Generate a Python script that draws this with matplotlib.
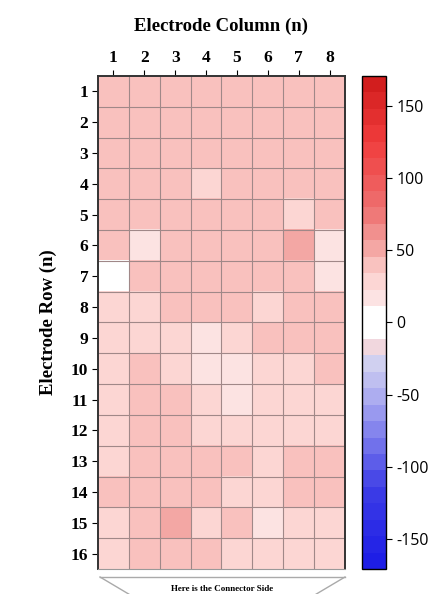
import numpy as np
import matplotlib
matplotlib.use('Agg')
import matplotlib.pyplot as plt
from matplotlib.colors import LinearSegmentedColormap
from matplotlib.lines import Line2D

plt.rcParams['axes.unicode_minus'] = False

cols = [1, 2, 3, 4, 5, 6, 7, 8]
rows = list(range(1, 17))

# values per electrode (row by row, columns 1..8)
vals = [
    [35, 36, 42, 41, 41, 41, 40, 40],
    [36, 37, 44, 42, 42, 42, 42, 42],
    [35, 36, 35, 42, 42, 42, 41, 41],
    [36, 36, 36, 34, 43, 43, 43, 43],
    [38, 36, 36, 42, 44, 44, 33, 38],
    [40, 15, 38, 37, 38, 38, 47, 12],
    [3, 40, 40, 40, 40, 40, 40, 15],
    [30, 33, 38, 38, 38, 30, 38, 38],
    [33, 33, 33, 16, 33, 40, 40, 40],
    [32, 40, 33, 15, 17, 32, 32, 40],
    [32, 38, 38, 32, 17, 32, 32, 32],
    [32, 38, 38, 32, 30, 32, 32, 32],
    [32, 38, 38, 38, 38, 32, 38, 38],
    [38, 38, 38, 38, 32, 32, 38, 38],
    [32, 36, 47, 31, 40, 18, 32, 32],
    [32, 36, 36, 36, 32, 32, 32, 32],
]
vmin, vmax = -171, 171

# colour anchors
anchors = [
    (-171, '#1e1ee6'), (-120, '#3c3ce6'), (-90, '#6e6eeb'), (-55, '#aaaaf0'),
    (-25, '#d7d7f0'), (-15, '#fad7d7'), (-10, '#ffffff'), (10, '#ffffff'),
    (15, '#fce6e6'), (35, '#fcd0cd'), (55, '#f3a3a0'), (80, '#ee7272'),
    (130, '#f03c3c'), (171, '#d21e1e'),
]
pos = [(a - vmin) / (vmax - vmin) for a, _ in anchors]
cmap = LinearSegmentedColormap.from_list('elec', list(zip(pos, [c for _, c in anchors]))).resampled(30)

serif = 'Liberation Serif'
fig = plt.figure(figsize=(4.45, 5.94), dpi=100)
ax = fig.add_axes([0.2202, 0.0421, 0.555, 0.830])
im = ax.imshow(np.array(vals), cmap=cmap, vmin=vmin, vmax=vmax, aspect='auto',
               extent=(0.5, 8.5, 16.5, 0.5), interpolation='nearest')

ax.set_xticks(cols)
ax.set_yticks(rows)
ax.set_xticklabels(cols, fontfamily=serif, fontweight='bold', fontsize=12.5)
ax.set_yticklabels(rows, fontfamily=serif, fontweight='bold', fontsize=12.5)
ax.xaxis.tick_top()
ax.xaxis.set_label_position('top')
ax.tick_params(length=4, width=0.8, pad=3)
ax.set_xlabel('Electrode Column (n)', fontfamily=serif, fontweight='bold', fontsize=13.5, labelpad=14)
ax.set_ylabel('Electrode Row (n)', fontfamily=serif, fontweight='bold', fontsize=13.5, labelpad=10)

ax.set_xticks(np.arange(1.5, 8.5, 1), minor=True)
ax.set_yticks(np.arange(1.5, 16.5, 1), minor=True)
ax.tick_params(which='minor', length=0)
ax.grid(which='minor', color='#a08888', linewidth=0.8)
ax.grid(which='major', visible=False)
for side in ['left', 'top', 'right']:
    ax.spines[side].set_linewidth(1.4)
    ax.spines[side].set_color('#333333')
ax.spines['bottom'].set_color('#999999')

cax = fig.add_axes([0.8135, 0.0421, 0.054, 0.830])
cb = fig.colorbar(im, cax=cax)
cb.set_ticks([-150, -100, -50, 0, 50, 100, 150])
cb.ax.tick_params(labelsize=11.5, length=4)
for t in cb.ax.get_yticklabels():
    t.set_fontfamily('Open Sans')
cb.outline.set_linewidth(1.0)

# connector-side trapezoid
W, H = 445, 594
def fx(x):
    return x / W
def fy(y):
    return 1 - y / H
line_kw = dict(color='#aaaaaa', linewidth=1.0, transform=fig.transFigure)
fig.add_artist(Line2D([fx(100), fx(345)], [fy(577), fy(577)], **line_kw))
fig.add_artist(Line2D([fx(100), fx(132)], [fy(577), fy(596)], **line_kw))
fig.add_artist(Line2D([fx(345), fx(313)], [fy(577), fy(596)], **line_kw))
fig.text(fx(222), fy(589), 'Here is the Connector Side', ha='center', va='center',
         fontfamily=serif, fontweight='bold', fontsize=6.5)

fig.savefig('out.png', dpi=100)
